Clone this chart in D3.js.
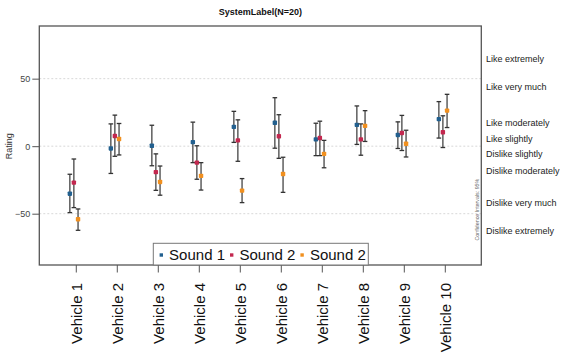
<!DOCTYPE html>
<html><head><meta charset="utf-8">
<script src="https://cdn.jsdelivr.net/npm/d3@7"></script>
<style>body{margin:0;background:#fff}svg{display:block}</style>
</head><body>
<script>
const categories = ["Vehicle 1","Vehicle 2","Vehicle 3","Vehicle 4","Vehicle 5","Vehicle 6","Vehicle 7","Vehicle 8","Vehicle 9","Vehicle 10"];
const seriesNames = ["Sound 1","Sound 2","Sound 2"];
const seriesColors = ["#22608f","#c3284f","#f1901f"];
const s1Mean = [-35.2, -1.7, 0.3, 3, 14.3, 17.3, 5, 15.8, 8.3, 20];
const s1Hi   = [-20.8, 16.5, 15.5, 17.8, 25.8, 35.9, 17, 29.8, 18, 33];
const s1Lo   = [-49.2, -20.2, -14.5, -12.2, 2.8, -1.5, -7, 1.3, -1.7, 6];
const s2Mean = [-27, 7.5, -19.2, -12.2, 4.3, 7.3, 6, 5, 9.8, 10.3];
const s2Hi   = [-9.5, 23, -5.7, 0.3, 19.5, 23.3, 18.5, 16.5, 22.8, 22.5];
const s2Lo   = [-45.5, -7.5, -32.7, -24.5, -11.2, -9, -7, -6.7, -3.2, -1];
const s3Mean = [-54.1, 5.3, -26.5, -22, -32.9, -20.6, -5.7, 15, 1.8, 26.3];
const s3Hi   = [-46.5, 16.8, -14.7, -12.2, -24, -8.2, 4.3, 26.3, 11.8, 38.4];
const s3Lo   = [-62.3, -6.5, -36.3, -32.5, -41.8, -34.2, -16, 3.5, -8, 13.8];
const yTicks = [-50, 0, 50];
const scaleLabels = ["Like extremely","Like very much","Like moderately","Like slightly","Dislike slightly","Dislike moderately","Dislike very much","Dislike extremely"];
const scaleLabelValues = [64.6, 43.6, 17.2, 5.6, -6, -18.1, -41.9, -62.6];
const seriesOffsets = [-0.145, -0.047, 0.055];

const W = 568, H = 355;
const L = 39.3, R = 481.3, T = 26, B = 265;
const font = "'Liberation Sans', Arial, sans-serif";

const svg = d3.select("body").append("svg").attr("width", W).attr("height", H)
  .style("font-family", font);

const x = d3.scaleLinear().domain([0.11, 10.89]).range([L, R]);
const y = d3.scaleLinear().domain([-88, 89]).range([B, T]);

// grid
svg.append("g").selectAll("line").data(yTicks).join("line")
  .attr("x1", L).attr("x2", R).attr("y1", d => y(d)).attr("y2", d => y(d))
  .attr("stroke", "#d8d8d8").attr("stroke-width", 1).attr("stroke-dasharray", "2,2");

// series
const series = [
  {mean: s1Mean, hi: s1Hi, lo: s1Lo},
  {mean: s2Mean, hi: s2Hi, lo: s2Lo},
  {mean: s3Mean, hi: s3Hi, lo: s3Lo}
];
series.forEach((s, si) => {
  const g = svg.append("g");
  const data = categories.map((c, i) => ({i: i + 1, m: s.mean[i], hi: s.hi[i], lo: s.lo[i]}));
  const px = d => x(d.i + seriesOffsets[si]);
  g.selectAll("line.bar").data(data).join("line").attr("class", "bar")
    .attr("x1", px).attr("x2", px).attr("y1", d => y(d.hi)).attr("y2", d => y(d.lo))
    .attr("stroke", "#454545").attr("stroke-width", 1.3);
  ["hi", "lo"].forEach(k => {
    g.selectAll("line.cap" + k).data(data).join("line").attr("class", "cap" + k)
      .attr("x1", d => px(d) - 2.3).attr("x2", d => px(d) + 2.3)
      .attr("y1", d => y(d[k])).attr("y2", d => y(d[k]))
      .attr("stroke", "#333").attr("stroke-width", 1.3);
  });
  g.selectAll("rect").data(data).join("rect")
    .attr("x", d => px(d) - 2.2).attr("y", d => y(d.m) - 2.2)
    .attr("width", 4.4).attr("height", 4.4).attr("rx", 0.8)
    .attr("fill", seriesColors[si]);
});

// frame
svg.append("rect").attr("x", L).attr("y", T).attr("width", R - L).attr("height", B - T)
  .attr("fill", "none").attr("stroke", "#555").attr("stroke-width", 1.3);

// y axis
const ya = svg.append("g").attr("transform", `translate(${L},0)`)
  .call(d3.axisLeft(y).tickValues(yTicks).tickSize(7).tickPadding(2).tickFormat(d3.format("d")));
ya.select(".domain").remove();
ya.selectAll("line").attr("stroke", "#555");
ya.selectAll("text").attr("fill", "#444").style("font-size", "9px").style("font-family", font);

svg.append("text").attr("transform", `translate(11.5,${y(0)}) rotate(-90)`)
  .attr("text-anchor", "middle").attr("fill", "#333").style("font-size", "9px").text("Rating");

// x axis
const xa = svg.append("g").attr("transform", `translate(0,${B})`)
  .call(d3.axisBottom(x).tickValues(d3.range(1, 11)).tickSize(7.5).tickFormat(d => categories[d - 1]));
xa.select(".domain").remove();
xa.selectAll("line").attr("stroke", "#555");
xa.selectAll("text").attr("transform", "rotate(-90)")
  .attr("x", -18).attr("y", 0).attr("dy", "0.4em").attr("text-anchor", "end")
  .attr("fill", "#111").style("font-size", "15px").style("font-family", font);

// title
svg.append("text").attr("x", (L + R) / 2).attr("y", 15).attr("text-anchor", "middle")
  .attr("font-weight", "bold").attr("fill", "#111").style("font-size", "9px").text("SystemLabel(N=20)");

// right scale labels
svg.append("g").selectAll("text").data(scaleLabels).join("text")
  .attr("x", 486).attr("y", (d, i) => y(scaleLabelValues[i])).attr("dy", "0.35em")
  .attr("fill", "#222").style("font-size", "9px").text(d => d);

// confidence note
svg.append("text").attr("transform", `translate(478.5,${y(-47)}) rotate(-90)`)
  .attr("text-anchor", "middle").attr("fill", "#666").style("font-size", "5.3px")
  .text("Confidence Intervals: 95%");

// legend
const lg = svg.append("g");
lg.append("rect").attr("x", 153.3).attr("y", 243.3).attr("width", 215).attr("height", B - 243.3)
  .attr("fill", "#fff").attr("stroke", "#777").attr("stroke-width", 1);
seriesNames.forEach((n, i) => {
  const lx = 161.3 + i * 70.4;
  lg.append("rect").attr("x", lx - 1.7).attr("y", 255 - 1.7).attr("width", 3.4).attr("height", 3.4)
    .attr("fill", seriesColors[i]);
  lg.append("text").attr("x", lx + 7.8).attr("y", 255).attr("dy", "0.36em")
    .attr("fill", "#111").style("font-size", "15px").text(n);
});
</script>
</body></html>
